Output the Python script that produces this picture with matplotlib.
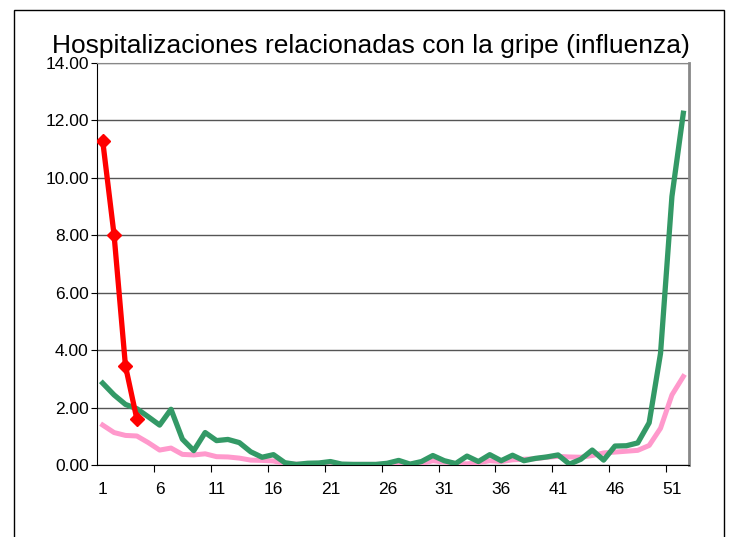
import matplotlib.pyplot as plt
from matplotlib.patches import Rectangle

weeks = list(range(1, 53))

# temporada actual (rojo)
actual = [11.29, 8.01, 3.45, 1.60]

# temporada anterior (verde)
verde = [2.85, 2.44, 2.11, 1.96, 1.68, 1.39, 1.94, 0.90, 0.50, 1.13,
         0.85, 0.89, 0.78, 0.46, 0.27, 0.36, 0.08, 0.02, 0.06, 0.07,
         0.12, 0.03, 0.02, 0.02, 0.02, 0.06, 0.16, 0.03, 0.12, 0.33,
         0.15, 0.05, 0.31, 0.12, 0.36, 0.15, 0.34, 0.15, 0.23, 0.28,
         0.35, 0.03, 0.20, 0.52, 0.17, 0.66, 0.67, 0.77, 1.47, 3.89,
         9.35, 12.25]

# promedio (rosa)
rosa = [1.39, 1.13, 1.03, 1.01, 0.78, 0.52, 0.59, 0.37, 0.35, 0.39,
        0.29, 0.28, 0.24, 0.17, 0.16, 0.14, 0.05, 0.03, 0.02, 0.02,
        0.03, 0.02, 0.02, 0.02, 0.02, 0.03, 0.05, 0.03, 0.05, 0.15,
        0.10, 0.05, 0.04, 0.08, 0.15, 0.12, 0.18, 0.20, 0.22, 0.27,
        0.30, 0.28, 0.27, 0.33, 0.42, 0.45, 0.48, 0.51, 0.68, 1.28,
        2.44, 3.08]

y_ticks = [0, 2, 4, 6, 8, 10, 12, 14]
x_labels = [1, 6, 11, 16, 21, 26, 31, 36, 41, 46, 51]

plt.rcParams['font.family'] = ['Liberation Sans', 'DejaVu Sans']

fig = plt.figure(figsize=(7.32, 5.37), dpi=100)
ax = fig.add_axes([97 / 732, 1 - 465 / 537, 592 / 732, 402 / 537])

# marco exterior
fig.patches.append(Rectangle((14 / 732, -0.1), 710 / 732, 1.1 - 10 / 537,
                             transform=fig.transFigure, fill=False,
                             edgecolor='black', linewidth=1))

ax.plot(weeks, rosa, color='#FF99CC', linewidth=3.6, solid_joinstyle='round', zorder=3)
ax.plot(weeks, verde, color='#339966', linewidth=3.8, solid_joinstyle='round', zorder=4)
ax.plot(weeks[:len(actual)], actual, color='#FF0000', linewidth=3.8,
        marker='D', markersize=7.5, zorder=5)

ax.set_xlim(0.5, 52.5)
ax.set_ylim(0, 14)
ax.set_yticks(y_ticks)
ax.set_yticklabels(['%.2f' % v for v in y_ticks], fontsize=12.5)
ax.yaxis.grid(True, color='#555555', linewidth=1)
ax.set_axisbelow(True)

ax.set_xticks([w + 0.5 for w in range(5, 52, 5)])
ax.set_xticklabels([])
ax.set_xticks(x_labels, minor=True)
ax.set_xticklabels([str(v) for v in x_labels], minor=True, fontsize=12.5)
ax.tick_params(axis='x', which='major', length=5, direction='out')
ax.tick_params(axis='x', which='minor', length=0, pad=12)
ax.tick_params(axis='y', length=4, direction='out', pad=2)

ax.spines['left'].set_color('black')
ax.spines['bottom'].set_color('black')
ax.spines['top'].set_color('#888888')
ax.spines['right'].set_color('#888888')
ax.spines['right'].set_linewidth(2)

fig.text(371 / 732, 1 - 46 / 537,
         'Hospitalizaciones relacionadas con la gripe (influenza)',
         ha='center', va='center', fontsize=19)

plt.savefig('out.png', dpi=100)
